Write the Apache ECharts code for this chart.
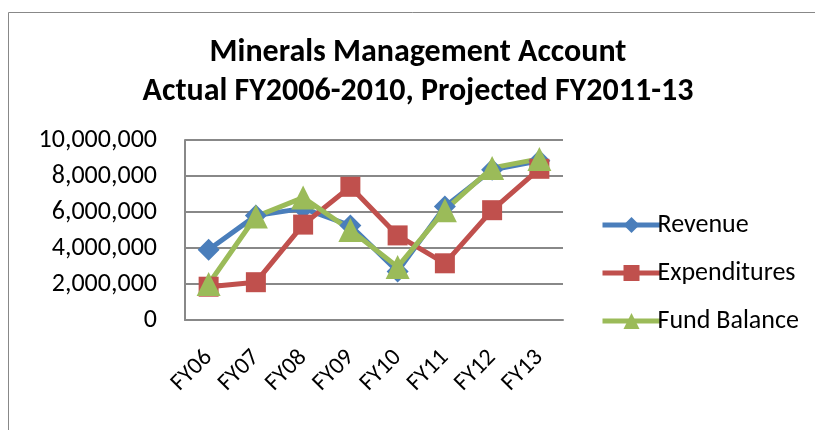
<!DOCTYPE html>
<html lang="en">
<head>
<meta charset="UTF-8">
<title>Minerals Management Account</title>
<script src="https://cdn.jsdelivr.net/npm/echarts@6/dist/echarts.min.js"></script>
<style>
  html, body { margin: 0; padding: 0; background: #fff; }
  #chart { width: 815px; height: 430px; }
</style>
</head>
<body>
<div id="chart"></div>
<script>
// data
var years = ['FY06', 'FY07', 'FY08', 'FY09', 'FY10', 'FY11', 'FY12', 'FY13'];
var revenue = [3900000, 5800000, 6200000, 5250000, 2700000, 6300000, 8350000, 8850000];
var expenditures = [1850000, 2100000, 5300000, 7400000, 4700000, 3150000, 6100000, 8400000];
var fundBalance = [2000000, 5750000, 6800000, 5000000, 2950000, 6100000, 8450000, 8950000];

var FONT = "Carlito, 'Liberation Sans', sans-serif";

var chart = echarts.init(document.getElementById('chart'));

function lineSeries(name, data, color, symbol, size) {
    return {
        name: name,
        type: 'line',
        data: data,
        symbol: symbol,
        symbolSize: size,
        lineStyle: { color: color, width: 5 },
        itemStyle: { color: color },
        emphasis: { disabled: true },
        animation: false
    };
}

chart.setOption({
    textStyle: { fontFamily: FONT },
    title: {
        text: 'Minerals Management Account\nActual FY2006-2010, Projected FY2011-13',
        left: 413,
        textAlign: 'center',
        top: 28,
        textStyle: { fontFamily: FONT, fontSize: 32, fontWeight: 'bold', color: '#000', lineHeight: 39 }
    },
    legend: {
        orient: 'vertical',
        left: 595,
        top: 207,
        itemWidth: 58,
        itemHeight: 20,
        itemGap: 22,
        lineStyle: { width: 5 },
        textStyle: { fontFamily: FONT, fontSize: 26, color: '#000', padding: [0, 0, 0, -8] },
        data: ['Revenue', 'Expenditures', 'Fund Balance']
    },
    grid: { left: 185, right: 252, top: 140, bottom: 110 },
    xAxis: {
        type: 'category',
        data: years,
        axisLine: { lineStyle: { color: '#888', width: 2 } },
        axisTick: { show: false },
        axisLabel: { rotate: 45, interval: 0, fontSize: 24, color: '#000', fontFamily: FONT, margin: 34 }
    },
    yAxis: {
        type: 'value',
        min: 0,
        max: 10000000,
        interval: 2000000,
        axisLine: { show: true, lineStyle: { color: '#888', width: 2 } },
        axisTick: { show: false },
        splitLine: { lineStyle: { color: '#888', width: 2 } },
        axisLabel: {
            fontSize: 26, color: '#000', fontFamily: FONT, margin: 28,
            formatter: function (v) { return v.toLocaleString('en-US'); }
        }
    },
    graphic: [{
        type: 'rect',
        shape: { x: 8.5, y: 12.5, width: 820, height: 430 },
        style: { fill: null, stroke: '#888', lineWidth: 1 },
        silent: true
    }],
    series: [
        lineSeries('Revenue', revenue, '#4A7EBB', 'diamond', 22),
        lineSeries('Expenditures', expenditures, '#C0504D', 'rect', 20),
        lineSeries('Fund Balance', fundBalance, '#9BBB59', 'triangle', 24)
    ]
});
</script>
</body>
</html>
